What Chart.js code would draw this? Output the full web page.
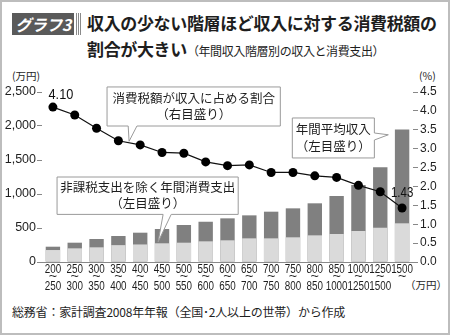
<!DOCTYPE html>
<html lang="ja">
<head>
<meta charset="utf-8">
<script src="https://cdn.jsdelivr.net/npm/chart.js@4/dist/chart.umd.min.js"></script>
<style>
  html, body { margin: 0; padding: 0; background: #fff; }
  #wrap { position: relative; width: 450px; height: 335px; overflow: hidden; font-family: 'Noto Sans CJK JP', sans-serif; color: #1e1e1e; }
  #frame { position: absolute; left: 0; top: 0; right: 0; bottom: 0; border: 2px solid #bdbdbd; pointer-events: none; }
  .abs { position: absolute; white-space: nowrap; }
  #badge { left: 12px; top: 13px; width: 62px; height: 22px; background: #5a5a5a; color: #fff; font-weight: bold; font-style: italic; font-size: 16px; line-height: 22px; text-align: center; letter-spacing: -0.5px; }
  #stripes { left: 76px; top: 13px; width: 6px; height: 22px; background: repeating-linear-gradient(90deg, #8a8a8a 0 1px, #fff 1px 2px); }
  #title1 { left: 87px; top: 10px; font-size: 17px; font-weight: bold; letter-spacing: -0.35px; line-height: 26px; }
  #title2 { left: 87px; top: 36px; font-size: 17px; font-weight: bold; letter-spacing: -0.35px; line-height: 26px; }
  #title2 small { font-size: 12px; font-weight: normal; letter-spacing: -0.4px; }
  #unitL { left: 12px; top: 68px; font-size: 10.5px; }
  #unitR { left: 419px; top: 68px; font-size: 10.5px; }
  #unitX { left: 405px; top: 277px; font-size: 10.5px; }
  #source { left: 12px; top: 303px; font-size: 12px; letter-spacing: -0.2px; }
  #chartBox { position: absolute; left: 0; top: 62px; width: 450px; height: 240px; }
</style>
</head>
<body>
<div id="wrap">
  <div class="abs" id="badge">グラフ3</div>
  <div class="abs" id="stripes"></div>
  <div class="abs" id="title1">収入の少ない階層ほど収入に対する消費税額の</div>
  <div class="abs" id="title2">割合が大きい<small>（年間収入階層別の収入と消費支出）</small></div>
  <div class="abs" id="unitL">(万円)</div>
  <div class="abs" id="unitR">(%)</div>
  <div class="abs" id="unitX">（万円）</div>
  <div class="abs" id="source">総務省：家計調査2008年年報（全国･2人以上の世帯）から作成</div>
  <div id="chartBox"><canvas id="chart" width="450" height="240"></canvas></div>
  <div id="frame"></div>
</div>
<script>
// Income brackets (万円)
const bracketFrom = ['200', '250', '300', '350', '400', '450', '500', '550', '600', '650', '700', '750', '800', '850', '1000', '1250', '1500'];
const bracketTo = ['250', '300', '350', '400', '450', '500', '550', '600', '650', '700', '750', '800', '850', '1000', '1250', '1500', ''];

// 年間平均収入 (万円, left axis)
const annualIncome = [225, 284, 338, 382, 431, 485, 544, 592, 642, 686, 740, 789, 863, 970, 1132, 1392, 1950];
// 非課税支出を除く年間消費支出 (万円, left axis)
const annualSpending = [176, 201, 216, 248, 258, 275, 284, 304, 319, 348, 348, 363, 392, 412, 456, 504, 569];
// 消費税額が収入に占める割合 (%, right axis)
const taxShare = [4.10, 3.89, 3.54, 3.21, 3.10, 2.90, 2.88, 2.65, 2.55, 2.57, 2.37, 2.37, 2.28, 2.24, 2.03, 1.86, 1.43];

// Axis ticks
const leftTicks = [0, 500, 1000, 1500, 2000, 2500];
const rightTicks = [0, 0.5, 1, 1.5, 2, 2.5, 3, 3.5, 4, 4.5];

const numFont = "'Liberation Sans', Arial, sans-serif";
const jpFont = "'Noto Sans CJK JP', sans-serif";

// Callout boxes: x in category units, y in left-axis units
const callouts = [
    {
        lines: ['消費税額が収入に占める割合', '（右目盛り）'],
        x0: 2.48, x1: 10.42, top: 2574, bottom: 2000,
        pointer: { side: 'bottom', a: 3.45, b: 3.85, tip: [3.49, 1775] }
    },
    {
        lines: ['非課税支出を除く年間消費支出', '（左目盛り）'],
        x0: 0.19, x1: 8.49, top: 1250, bottom: 700,
        pointer: { side: 'bottom', a: 5.05, b: 5.42, tip: [4.82, 294] }
    },
    {
        lines: ['年間平均収入', '（左目盛り）'],
        x0: 10.97, x1: 14.73, top: 2118, bottom: 1530,
        pointer: { side: 'right', a: 1897, b: 1794, tip: [15.37, 1871] }
    }
];

// draw text squeezed horizontally (the original uses a condensed face)
function narrowText(ctx, text, x, y, squeeze) {
    ctx.save();
    ctx.translate(x, y);
    ctx.scale(squeeze, 1);
    ctx.fillText(text, 0, 0);
    ctx.restore();
}

const calloutPlugin = {
    id: 'callouts',
    afterDatasetsDraw(chart) {
        const { ctx } = chart;
        const xs = chart.scales.x;
        const ys = chart.scales.y;
        const px = v => xs.getPixelForValue(v);
        const py = v => ys.getPixelForValue(v);

        ctx.save();
        callouts.forEach(c => {
            const l = px(c.x0), r = px(c.x1), t = py(c.top), b = py(c.bottom);
            const p = c.pointer;
            const tip = [px(p.tip[0]), py(p.tip[1])];

            ctx.beginPath();
            if (p.side === 'bottom') {
                const a = px(p.a), bb = px(p.b);
                ctx.moveTo(l, t); ctx.lineTo(r, t); ctx.lineTo(r, b);
                ctx.lineTo(bb, b); ctx.lineTo(tip[0], tip[1]); ctx.lineTo(a, b);
                ctx.lineTo(l, b); ctx.closePath();
            } else {
                const a = py(p.a), bb = py(p.b);
                ctx.moveTo(l, t); ctx.lineTo(r, t); ctx.lineTo(r, a);
                ctx.lineTo(tip[0], tip[1]); ctx.lineTo(r, bb);
                ctx.lineTo(r, b); ctx.lineTo(l, b); ctx.closePath();
            }
            ctx.fillStyle = '#fff';
            ctx.fill();
            ctx.strokeStyle = '#9a9a9a';
            ctx.lineWidth = 1;
            ctx.stroke();

            ctx.fillStyle = '#1e1e1e';
            ctx.font = '12.5px ' + jpFont;
            ctx.textAlign = 'center';
            ctx.textBaseline = 'middle';
            const cx = (l + r) / 2, cy = (t + b) / 2;
            ctx.fillText(c.lines[0], cx, cy - 8.5);
            ctx.fillText(c.lines[1], cx, cy + 8);
        });

        // value labels on first and last points of the line
        const pts = chart.getDatasetMeta(0).data;
        ctx.fillStyle = '#111';
        ctx.textAlign = 'center';
        ctx.textBaseline = 'middle';
        ctx.font = '15px ' + numFont;
        narrowText(ctx, taxShare[0].toFixed(2), pts[0].x + 8, pts[0].y - 12, 0.85);
        const last = pts[pts.length - 1];
        ctx.font = '14px ' + numFont;
        narrowText(ctx, taxShare[taxShare.length - 1].toFixed(2), last.x, last.y - 15, 0.82);

        // category labels: "from / ~ / to"
        ctx.fillStyle = '#1e1e1e';
        const base = xs.top;
        bracketFrom.forEach((from, i) => {
            const x = xs.getPixelForValue(i);
            ctx.font = '12px ' + numFont;
            narrowText(ctx, from, x, base + 8, 0.82);
            if (bracketTo[i]) {
                narrowText(ctx, bracketTo[i], x, base + 25, 0.82);
            }
            ctx.font = '12px ' + numFont;
            narrowText(ctx, '~', x, base + 14.5, 1.2);
        });
        ctx.restore();
    }
};

const ctx = document.getElementById('chart').getContext('2d');
new Chart(ctx, {
    type: 'bar',
    data: {
        labels: bracketFrom,
        datasets: [
            {
                type: 'line',
                label: '消費税額が収入に占める割合',
                data: taxShare,
                yAxisID: 'y1',
                borderColor: '#111',
                borderWidth: 1.2,
                pointBackgroundColor: '#000',
                pointBorderColor: '#000',
                pointRadius: 4.5,
                pointBorderWidth: 0,
                tension: 0,
                order: 0
            },
            {
                label: '非課税支出を除く年間消費支出',
                data: annualSpending,
                yAxisID: 'y',
                backgroundColor: '#dadada',
                grouped: false,
                barPercentage: 0.66,
                categoryPercentage: 1,
                order: 1
            },
            {
                label: '年間平均収入',
                data: annualIncome,
                yAxisID: 'y',
                backgroundColor: '#808080',
                grouped: false,
                barPercentage: 0.66,
                categoryPercentage: 1,
                order: 2
            }
        ]
    },
    options: {
        responsive: false,
        animation: false,
        layout: { padding: { top: 30, left: 0, right: 0, bottom: 0 } },
        plugins: {
            legend: { display: false },
            tooltip: { enabled: false }
        },
        scales: {
            x: {
                afterFit: scale => { scale.height = 40; },
                grid: { display: false },
                border: { display: true, color: '#888', width: 1 },
                ticks: { display: false }
            },
            y: {
                position: 'left',
                min: 0,
                max: 2500,
                afterFit: scale => { scale.width = 42; },
                afterBuildTicks: scale => { scale.ticks = leftTicks.map(v => ({ value: v })); },
                grid: { drawOnChartArea: false, drawTicks: true, tickLength: 5, color: '#888' },
                border: { display: false },
                ticks: {
                    padding: 1,
                    color: '#1e1e1e',
                    font: { family: numFont, size: 12.5 },
                    callback: v => v.toLocaleString('en-US')
                }
            },
            y1: {
                position: 'right',
                min: 0,
                max: 4.5,
                afterFit: scale => { scale.width = 37; },
                afterBuildTicks: scale => { scale.ticks = rightTicks.map(v => ({ value: v })); },
                grid: { drawOnChartArea: false, drawTicks: true, tickLength: 5, color: '#888' },
                border: { display: false },
                ticks: {
                    padding: 2,
                    color: '#1e1e1e',
                    font: { family: numFont, size: 12 },
                    callback: v => v.toFixed(1)
                }
            }
        }
    },
    plugins: [calloutPlugin]
});
</script>
</body>
</html>
